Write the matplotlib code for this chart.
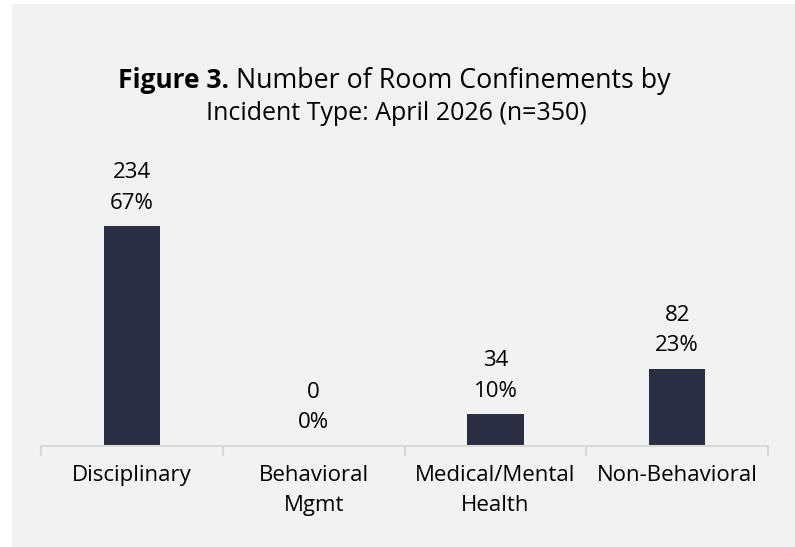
import matplotlib.pyplot as plt
from matplotlib.patches import Rectangle

# data
categories = ["Disciplinary", "Behavioral\nMgmt", "Medical/Mental\nHealth", "Non-Behavioral"]
counts = [234, 0, 34, 82]
percents = ["67%", "0%", "10%", "23%"]

bar_color = "#2B2D42"
bg_color = "#F2F2F2"
plt.rcParams['font.family'] = ['Open Sans', 'DejaVu Sans']

W, H = 795, 547
fig = plt.figure(figsize=(W / 100, H / 100), dpi=100, facecolor='white')
# gray panel (small white strip on left and top)
fig.patches.append(Rectangle((12 / W, 0), 1 - 12 / W, 1 - 4 / H, transform=fig.transFigure,
                             facecolor=bg_color, edgecolor='none', zorder=-5))

ax = fig.add_axes([41 / W, 101 / H, (768 - 41) / W, (446 - 180) / H])
ax.set_zorder(2)
ax.set_facecolor('none')
x = range(len(categories))
ax.bar(x, counts, width=0.31, color=bar_color, zorder=2)
ax.set_xlim(-0.5, len(categories) - 0.5)
ax.set_ylim(0, 283)

for i, (c, p) in enumerate(zip(counts, percents)):
    ax.annotate(f"{c}\n{p}", xy=(i, c), xytext=(0, 9), textcoords='offset points',
                ha='center', va='bottom', fontsize=16, linespacing=1.6, color='black')

for s in ['top', 'right', 'left']:
    ax.spines[s].set_visible(False)
ax.spines['bottom'].set_color('#D9D9D9')
ax.spines['bottom'].set_linewidth(1.5)
ax.set_yticks([])
ax.set_xticks(list(x))
ax.set_xticklabels(categories, fontsize=16, linespacing=1.6, color='black')
ax.tick_params(axis='x', which='major', length=0, pad=13.5)
ax.set_xticks([i - 0.5 for i in range(len(categories) + 1)], minor=True)
ax.tick_params(axis='x', which='minor', length=7, width=1.5, color='#D9D9D9')

# title: bold "Figure 3." followed by normal text, centred
t1 = fig.text(0, 1 - 88 / H, "Figure 3.", fontsize=19, fontweight='bold', ha='left', va='baseline')
t2 = fig.text(0, 1 - 88 / H, " Number of Room Confinements by", fontsize=19.3, ha='left', va='baseline')
fig.text(396 / W, 1 - 120 / H, "Incident Type: April 2026 (n=350)", fontsize=18, ha='center', va='baseline')
fig.canvas.draw()
r = fig.canvas.get_renderer()
w1 = t1.get_window_extent(r).width
w2 = t2.get_window_extent(r).width
x0 = 394 - (w1 + w2) / 2
t1.set_x(x0 / W)
t2.set_x((x0 + w1) / W)

fig.savefig("out.png", dpi=100, facecolor=fig.get_facecolor())
